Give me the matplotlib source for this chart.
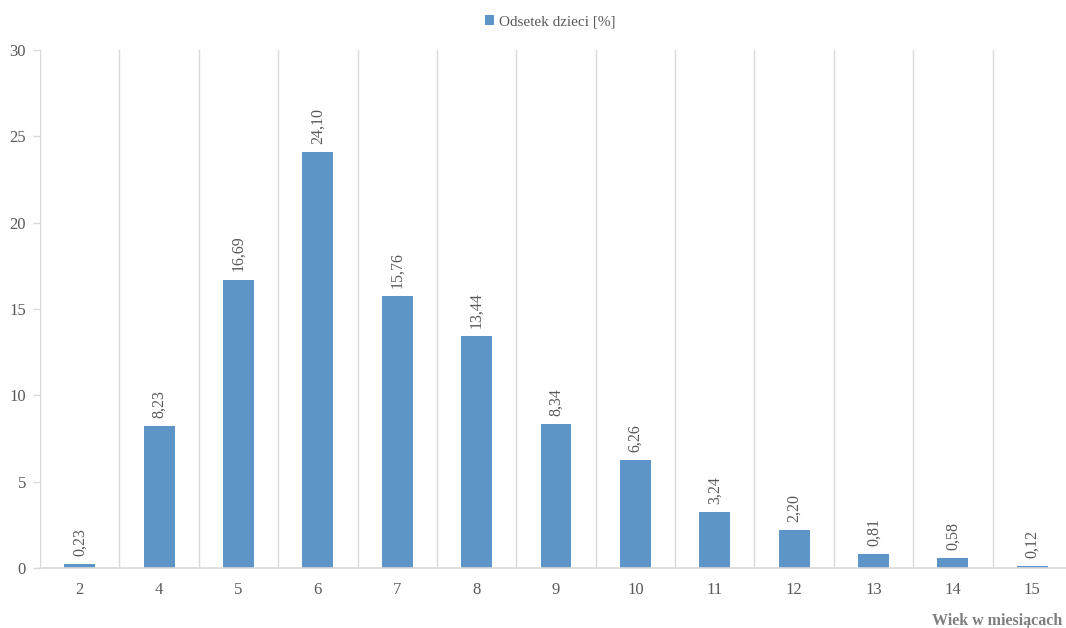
import matplotlib.pyplot as plt

plt.rcParams['font.family'] = ['Liberation Serif', 'DejaVu Serif']

# dane
wiek = ['2', '4', '5', '6', '7', '8', '9', '10', '11', '12', '13', '14', '15']
odsetek = [0.23, 8.23, 16.69, 24.10, 15.76, 13.44, 8.34, 6.26, 3.24, 2.20, 0.81, 0.58, 0.12]
etykiety = ['0,23', '8,23', '16,69', '24,10', '15,76', '13,44', '8,34', '6,26',
            '3,24', '2,20', '0,81', '0,58', '0,12']

kolor = '#5e95c9'
tekst = '#595959'

fig = plt.figure(figsize=(10.66, 6.28), dpi=100)
ax = fig.add_axes([40 / 1066, 1 - 568 / 628, (1072 - 40) / 1066, (568 - 50) / 628])

x = range(len(wiek))
bars = ax.bar(x, odsetek, width=0.39, color=kolor, label='Odsetek dzieci [%]', zorder=3)

for xi, v, lab in zip(x, odsetek, etykiety):
    ax.annotate(lab, (xi, v), xytext=(0, 6), textcoords='offset points',
                rotation=90, ha='center', va='bottom', fontsize=11.5, color=tekst)

# pionowe linie siatki między kategoriami
for b in range(len(wiek) + 1):
    ax.axvline(b - 0.5, color='#d9d9d9', lw=1, zorder=1)

ax.set_xlim(-0.5, len(wiek) - 0.5)
ax.set_ylim(0, 30)
ax.set_xticks(list(x))
ax.set_xticklabels(wiek)
ax.set_yticks([0, 5, 10, 15, 20, 25, 30])
ax.tick_params(axis='x', length=0, pad=10, labelsize=12, colors=tekst)
ax.tick_params(axis='y', length=5, width=1, color='#d9d9d9', pad=5, labelsize=12, labelcolor=tekst)

for s in ['top', 'right', 'left']:
    ax.spines[s].set_visible(False)
ax.spines['bottom'].set_color('#d9d9d9')
ax.spines['bottom'].set_linewidth(1.2)
ax.spines['bottom'].set_zorder(4)

fig.text(1062 / 1066, 1 - 621 / 628, 'Wiek w miesiącach', ha='right', va='center',
         fontsize=11.5, fontweight='bold', color='#7f7f7f')

leg = fig.legend(loc='center', bbox_to_anchor=(550 / 1066, 1 - 22 / 628), frameon=False,
                 fontsize=11, handlelength=0.6, handleheight=0.6, handletextpad=0.3)
for t in leg.get_texts():
    t.set_color(tekst)

fig.savefig('out.png', dpi=100)
